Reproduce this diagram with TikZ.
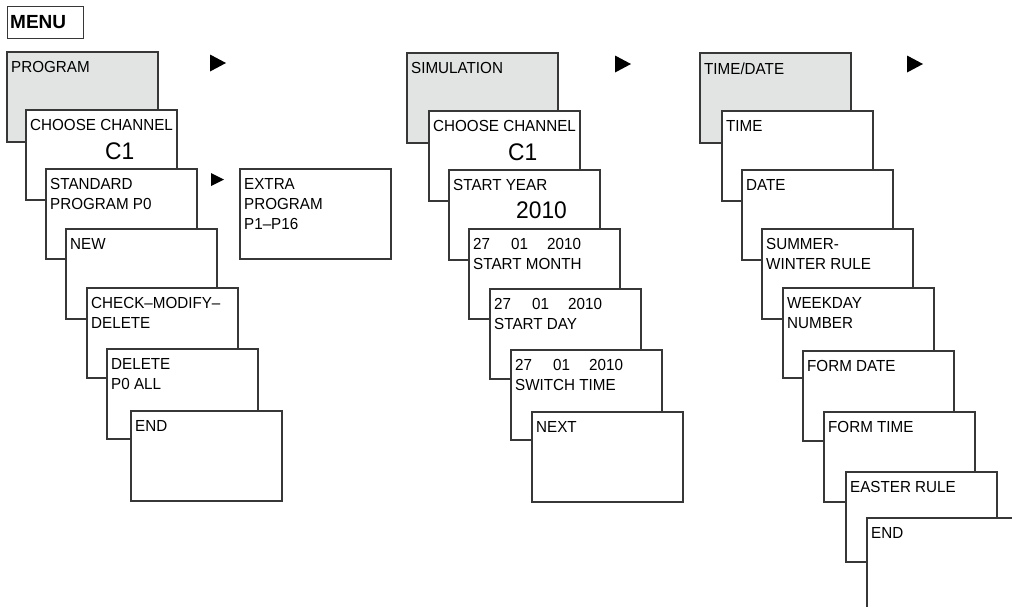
\documentclass[tikz,border=0pt]{standalone}
\usepackage{fontspec}
\setmainfont[FakeStretch=0.95]{Liberation Sans}
\newfontfamily\menufont{Liberation Sans}
\definecolor{linec}{RGB}{55,55,55}
\definecolor{grayf}{RGB}{226,227,227}
\newcommand\Scr[5]{%
  \node[scr,fill=#4] (#1) at (#2,#3) {};
  \node[lbl] (#1t) at ([xshift=4pt,yshift=-9.5pt]#1.north west) {#5};}
\begin{document}
\begin{tikzpicture}[x=1pt,y=-1pt,
  scr/.style={draw=linec, line width=1.2pt, minimum width=151pt, minimum height=90pt,
    inner sep=0pt, outer sep=0pt, anchor=north west},
  lbl/.style={anchor=north west, inner sep=0pt, font=\fontsize{16}{20}\selectfont, align=left, text=black},
  big/.style={anchor=north west, inner sep=0pt, font=\fontsize{24}{26}\selectfont, text=black},
  tri/.style={fill=black}]
\useasboundingbox (0,0) rectangle (1012,606);
\clip (0,0) rectangle (1012,606);
% MENU
\node[draw=linec, line width=1.2pt, minimum width=76pt, minimum height=32pt,
  anchor=north west, inner sep=0pt] (menu) at (7,6) {};
\node[anchor=north west, inner sep=0pt, font=\menufont\bfseries\fontsize{19}{20}\selectfont] (menut)
  at ([xshift=3pt,yshift=-9pt]menu.north west) {MENU};
% PROGRAM column
\Scr{p0}{7}{52}{grayf}{PROGRAM}
\Scr{p1}{26}{110}{white}{CHOOSE CHANNEL}
\node[big] (p1v) at ([xshift=79pt,yshift=-33pt]p1.north west) {C1};
\Scr{p2}{46}{169}{white}{STANDARD\\PROGRAM P0}
\Scr{px}{240}{169}{white}{EXTRA\\PROGRAM\\P1–P16}
\Scr{p3}{66}{229}{white}{NEW}
\Scr{p4}{87}{288}{white}{CHECK–MODIFY–\\DELETE}
\Scr{p5}{107}{349}{white}{DELETE\\P0 ALL}
\Scr{p6}{131}{411}{white}{END}
% SIMULATION column
\Scr{s0}{407}{53}{grayf}{SIMULATION}
\Scr{s1}{429}{111}{white}{CHOOSE CHANNEL}
\node[big] (s1v) at ([xshift=79pt,yshift=-33pt]s1.north west) {C1};
\Scr{s2}{449}{170}{white}{START YEAR}
\node[big] (s2v) at ([xshift=67pt,yshift=-32pt]s2.north west) {2010};
\Scr{s3}{469}{229}{white}{\makebox[38pt][l]{27}\makebox[36pt][l]{01}2010\\START MONTH}
\Scr{s4}{490}{289}{white}{\makebox[38pt][l]{27}\makebox[36pt][l]{01}2010\\START DAY}
\Scr{s5}{511}{350}{white}{\makebox[38pt][l]{27}\makebox[36pt][l]{01}2010\\SWITCH TIME}
\Scr{s6}{532}{412}{white}{NEXT}
% TIME/DATE column
\Scr{t0}{700}{53}{grayf}{TIME/DATE}
\Scr{t1}{722}{111}{white}{TIME}
\Scr{t2}{742}{170}{white}{DATE}
\Scr{t3}{762}{229}{white}{SUMMER-\\WINTER RULE}
\Scr{t4}{783}{288}{white}{WEEKDAY\\NUMBER}
\Scr{t5}{803}{351}{white}{FORM DATE}
\Scr{t6}{824}{412}{white}{FORM TIME}
\Scr{t7}{846}{472}{white}{EASTER RULE}
\Scr{t8}{867}{518}{white}{END}
% arrows
\fill[tri] (210,54.5) -- (226,63) -- (210,71.5) -- cycle;
\fill[tri] (615,55.5) -- (631,64) -- (615,72.5) -- cycle;
\fill[tri] (907,55.5) -- (923,64) -- (907,72.5) -- cycle;
\fill[tri] (211,173) -- (224,179.5) -- (211,186) -- cycle;
\end{tikzpicture}
\end{document}
